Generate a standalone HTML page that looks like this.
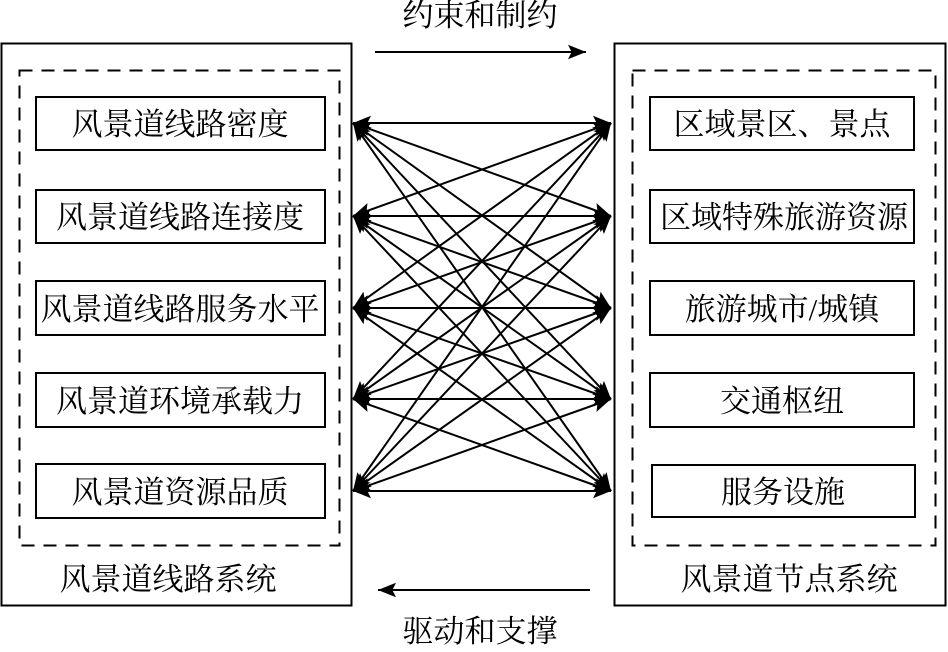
<!DOCTYPE html>
<html><head><meta charset="utf-8"><style>
html,body{margin:0;padding:0;background:#fff;}
svg text{font-family:"Liberation Serif","Noto Serif CJK SC","Noto Sans CJK SC",serif;font-size:31px;fill:#000;}
</style></head><body>
<svg width="948" height="647" viewBox="0 0 948 647" xmlns="http://www.w3.org/2000/svg">
<defs>
<marker id="b" viewBox="0 0 10 10" refX="10" refY="5" markerWidth="18" markerHeight="18" markerUnits="userSpaceOnUse" orient="auto-start-reverse"><path d="M0,1 L10,5 L0,9 L2,5 z" fill="#000"/></marker>
</defs>
<g fill="none" stroke="#000">
<rect x="1.5" y="43.5" width="350" height="562" stroke-width="2"/>
<rect x="614.5" y="43.5" width="331" height="562" stroke-width="2"/>
<rect x="19.5" y="70.5" width="320" height="475" stroke-width="2" stroke-dasharray="13,9"/>
<rect x="632.5" y="70.5" width="303" height="475" stroke-width="2" stroke-dasharray="13,9"/>
<g stroke-width="2">
<rect x="36" y="97" width="289" height="53"/>
<rect x="36" y="190" width="289" height="53"/>
<rect x="36" y="281" width="289" height="54"/>
<rect x="36" y="373" width="289" height="54"/>
<rect x="36" y="464" width="289" height="54"/>
<rect x="650" y="97" width="264" height="53"/>
<rect x="650" y="190" width="264" height="53"/>
<rect x="650" y="281" width="264" height="54"/>
<rect x="650" y="373" width="264" height="54"/>
<rect x="652" y="465" width="263" height="52"/>
</g>
<g stroke-width="2" marker-start="url(#b)" marker-end="url(#b)">
<line x1="353" y1="123" x2="611" y2="123"/><line x1="353" y1="123" x2="611" y2="216"/><line x1="353" y1="123" x2="611" y2="308"/><line x1="353" y1="123" x2="611" y2="399"/><line x1="353" y1="123" x2="611" y2="491"/>
<line x1="353" y1="216" x2="611" y2="123"/><line x1="353" y1="216" x2="611" y2="216"/><line x1="353" y1="216" x2="611" y2="308"/><line x1="353" y1="216" x2="611" y2="399"/><line x1="353" y1="216" x2="611" y2="491"/>
<line x1="353" y1="308" x2="611" y2="123"/><line x1="353" y1="308" x2="611" y2="216"/><line x1="353" y1="308" x2="611" y2="308"/><line x1="353" y1="308" x2="611" y2="399"/><line x1="353" y1="308" x2="611" y2="491"/>
<line x1="353" y1="399" x2="611" y2="123"/><line x1="353" y1="399" x2="611" y2="216"/><line x1="353" y1="399" x2="611" y2="308"/><line x1="353" y1="399" x2="611" y2="399"/><line x1="353" y1="399" x2="611" y2="491"/>
<line x1="353" y1="491" x2="611" y2="123"/><line x1="353" y1="491" x2="611" y2="216"/><line x1="353" y1="491" x2="611" y2="308"/><line x1="353" y1="491" x2="611" y2="399"/><line x1="353" y1="491" x2="611" y2="491"/>
</g>
<line x1="375" y1="52" x2="586" y2="52" stroke-width="2" marker-end="url(#b)"/>
<line x1="590" y1="590" x2="378" y2="590" stroke-width="2" marker-end="url(#b)"/>
</g>
<g text-anchor="middle">
<text x="480" y="26">约束和制约</text>
<text x="480" y="642">驱动和支撑</text>
<text x="180" y="135">风景道线路密度</text>
<text x="180" y="228">风景道线路连接度</text>
<text x="180" y="320">风景道线路服务水平</text>
<text x="180" y="412">风景道环境承载力</text>
<text x="180" y="503">风景道资源品质</text>
<text x="782" y="135">区域景区、景点</text>
<text x="784" y="228">区域特殊旅游资源</text>
<text x="782" y="320">旅游城市/城镇</text>
<text x="782" y="412">交通枢纽</text>
<text x="783" y="503">服务设施</text>
<text x="168" y="590">风景道线路系统</text>
<text x="789" y="590">风景道节点系统</text>
</g>
</svg>
</body></html>
